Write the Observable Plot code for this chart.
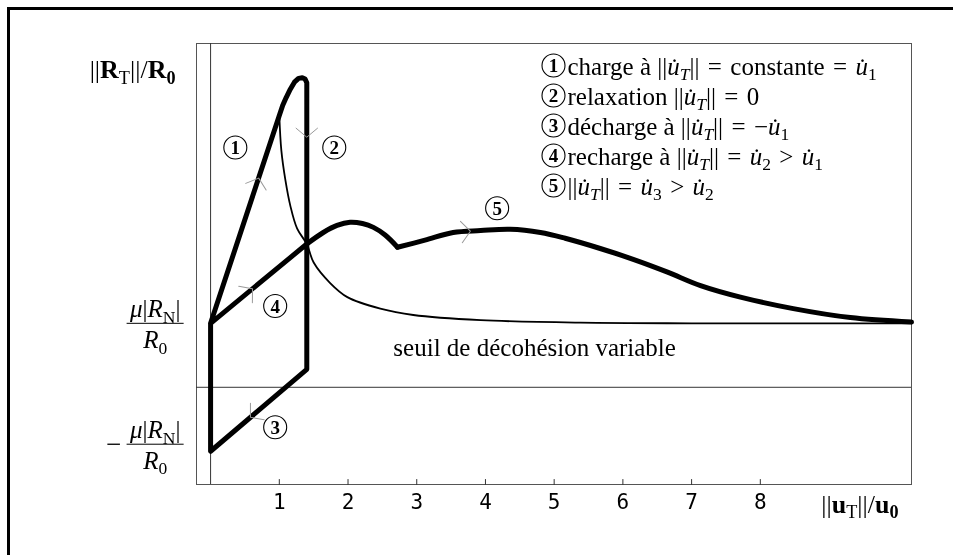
<!DOCTYPE html>
<html><head><meta charset="utf-8">
<script src="https://cdn.jsdelivr.net/npm/d3@7"></script>
<script src="https://cdn.jsdelivr.net/npm/@observablehq/plot@0.6"></script>
<style>
html,body{margin:0;background:#fff;overflow:hidden;}
#wrap{position:relative;width:953px;height:555px;overflow:hidden;}
#border{position:absolute;left:7px;top:7px;width:943px;height:545px;border-left:3px solid #000;border-top:3px solid #000;pointer-events:none;}
#wrap svg{position:absolute;left:0;top:0;will-change:transform;}
</style></head><body><div id="wrap"><div id="border"></div></div>
<script>
// ---- data ----
const xTicks = [1, 2, 3, 4, 5, 6, 7, 8];
// cycle 1-2-3 then 4 (charge, relaxation, décharge, recharge)
const loopX = [0, 1.0, 1.05, 1.10, 1.16, 1.22, 1.28, 1.335, 1.375, 1.40, 1.40, 1.40, 0, 0, 1.40];
const loopY = [1, 4.25, 4.41, 4.53, 4.66, 4.77, 4.83, 4.84, 4.82, 4.76, 4.68, 0.28, -1, 1, 2.24];
// segment 5, before and after the kink
const path5aX = [1.40, 1.64, 1.84, 2.03, 2.21, 2.37, 2.54, 2.72];
const path5aY = [2.24, 2.42, 2.53, 2.58, 2.56, 2.50, 2.38, 2.19];
const path5bX = [2.72, 3.12, 3.53, 3.93, 4.36, 4.80, 5.16, 5.67, 6.15, 6.65, 7.13, 7.71, 8.48, 9.31, 10.2];
const path5bY = [2.19, 2.30, 2.42, 2.45, 2.47, 2.42, 2.33, 2.17, 2.00, 1.80, 1.59, 1.41, 1.23, 1.09, 1.02];
// seuil de décohésion variable
const seuilX = [1.00, 1.03, 1.09, 1.16, 1.26, 1.40, 1.50, 1.74, 1.99, 2.47, 2.95, 3.93, 5.38, 7.0, 10.2];
const seuilY = [4.25, 3.70, 3.23, 2.84, 2.48, 2.24, 1.95, 1.63, 1.41, 1.23, 1.13, 1.05, 1.01, 1.0, 1.0];
// direction chevrons (position on path, heading in degrees)
const arrowX = [0.70, 1.40, 0.58, 0.61, 3.78];
const arrowY = [3.27, 3.91, -0.47, 1.54, 2.44];
const arrowAngle = [18, 180, 230, 50.5, 85];
// step labels
const stepNames = ["1", "2", "3", "4", "5"];
const stepX = [0.36, 1.80, 0.94, 0.94, 4.17];
const stepY = [3.75, 3.75, -0.625, 1.27, 2.80];
const E = "\u2004"; // math spacing
const legendText = [
  `charge à ||$u\u0307$_{$T$}||${E}=${E}constante${E}=${E}$u\u0307$_{1}`,
  `relaxation ||$u\u0307$_{$T$}||${E}=${E}0`,
  `décharge à ||$u\u0307$_{$T$}||${E}=${E}−$u\u0307$_{1}`,
  `recharge à ||$u\u0307$_{$T$}||${E}=${E}$u\u0307$_{2}${E}>${E}$u\u0307$_{1}`,
  `||$u\u0307$_{$T$}||${E}=${E}$u\u0307$_{3}${E}>${E}$u\u0307$_{2}`
];
const yLevels = [1, -0.89];
const seuilLabel = "seuil de décohésion variable";
const yTitle = "||*R*_{T}||/*R*_{*0*}";
const xTitle = "||*u*_{T}||/*u*_{*0*}";

// ---- build ----
const toPts = (xs, ys) => xs.map((x, i) => ({x, y: ys[i]}));
const loop = toPts(loopX, loopY);
const p5a = toPts(path5aX, path5aY);
const p5b = toPts(path5bX, path5bY);
const seuil = toPts(seuilX, seuilY);
const arrows = arrowX.map((x, i) => ({x, y: arrowY[i], a: arrowAngle[i]}));
const steps = stepNames.map((t, i) => ({t, x: stepX[i], y: stepY[i]}));

const chevron = {draw(ctx, l) {
  const a = 50 * Math.PI / 180;
  ctx.moveTo(-l * Math.sin(a), l * Math.cos(a));
  ctx.lineTo(0, 0);
  ctx.lineTo(l * Math.sin(a), l * Math.cos(a));
}};
const tickShape = {draw(ctx, l) { ctx.moveTo(0, 0); ctx.lineTo(0, -l); }};
const serif = "Liberation Serif";
const fsText = 25;
const txt = {fontSize: fsText, fontFamily: serif, letterSpacing: 0.2};
const ttl = {fontSize: 26, fontFamily: serif, letterSpacing: 1.5};

const legendMarks = [];
legendText.forEach((t, i) => {
  const dy = 22 + i * 30;
  legendMarks.push(Plot.dot([0], {frameAnchor: "top-left", dx: 357, dy, r: 11.5, stroke: "#000", strokeWidth: 1.1, fill: "none"}));
  legendMarks.push(Plot.text([stepNames[i]], {frameAnchor: "top-left", dx: 357, dy: dy + 0.5, textAnchor: "middle", lineAnchor: "middle", fontWeight: "bold", fontSize: 19, fontFamily: serif}));
  legendMarks.push(Plot.text([t], {frameAnchor: "top-left", dx: 371, dy: dy + 1, textAnchor: "start", lineAnchor: "middle", ...txt}));
});

const svg = Plot.plot({
  width: 953, height: 555,
  marginTop: 43, marginRight: 42, marginBottom: 71, marginLeft: 196,
  style: {fontFamily: serif, background: "transparent", overflow: "visible"},
  x: {domain: [-0.205, 10.2], axis: null},
  y: {domain: [-1.52, 5.375], axis: null},
  marks: [
    Plot.frame({stroke: "#555", strokeWidth: 1}),
    Plot.ruleX([0], {stroke: "#333", strokeWidth: 1}),
    Plot.ruleY([0], {stroke: "#333", strokeWidth: 1}),
    Plot.vector(xTicks, {x: d => d, frameAnchor: "bottom", length: 5, rotate: 0, anchor: "start", shape: tickShape, stroke: "#333", strokeWidth: 1}),
    Plot.axisX({ticks: xTicks, tickSize: 0, tickPadding: 10, fontSize: 21, fontFamily: "DejaVu Sans Mono", label: null, tickFormat: d => String(d)}),
    Plot.line(seuil, {x: "x", y: "y", curve: "catmull-rom", strokeWidth: 1.8, stroke: "#000"}),
    Plot.line(loop, {x: "x", y: "y", strokeWidth: 5, stroke: "#000", strokeLinejoin: "round", strokeLinecap: "round"}),
    Plot.line(p5a, {x: "x", y: "y", curve: "catmull-rom", strokeWidth: 5, stroke: "#000", strokeLinecap: "round"}),
    Plot.line(p5b, {x: "x", y: "y", curve: "catmull-rom", strokeWidth: 5, stroke: "#000", strokeLinecap: "round"}),
    Plot.vector(arrows, {x: "x", y: "y", rotate: "a", length: 14, anchor: "start", shape: chevron, stroke: "#999", strokeWidth: 1, fill: "none"}),
    Plot.dot(steps, {x: "x", y: "y", r: 11.5, stroke: "#000", strokeWidth: 1.1, fill: "none"}),
    Plot.text(steps, {x: "x", y: "y", text: "t", dy: 0.5, fontWeight: "bold", fontSize: 19, fontFamily: serif}),
    ...legendMarks,
    Plot.text([seuilLabel], {x: 2.66, y: 0.62, textAnchor: "start", ...txt}),
    // fraction labels
    Plot.text(yLevels, {x: -0.805, y: d => d, text: () => "$μ$|$R$_{N}|", lineAnchor: "bottom", dy: -6, ...txt}),
    Plot.text(yLevels, {x: -0.805, y: d => d, text: () => "$R$_{0}", lineAnchor: "top", dy: 7, ...txt}),
    Plot.ruleY(yLevels, {x1: -1.215, x2: -0.385, stroke: "#000", strokeWidth: 1}),
    Plot.text([yLevels[1]], {x: -1.41, y: d => d, text: () => "−", fontSize: 27, fontFamily: serif}),
    // axis titles
    Plot.text([yTitle], {frameAnchor: "top-left", dx: -21, dy: 26, textAnchor: "end", lineAnchor: "middle", ...ttl}),
    Plot.text([xTitle], {frameAnchor: "bottom-right", dx: -13, dy: 28, lineAnchor: "bottom", textAnchor: "end", ...ttl})
  ]
});
document.getElementById("wrap").appendChild(svg);

// rich text: $..$ italic, *..* bold, _{..} subscript
function richify(el) {
  const src = el.textContent;
  const fs = parseFloat(getComputedStyle(el).fontSize) || fsText;
  const segs = []; let cur = "", it = false, bd = false, sub = false;
  const flush = () => { if (cur) segs.push({t: cur, it, bd, sub}); cur = ""; };
  for (let i = 0; i < src.length; i++) {
    const c = src[i];
    if (c === "_" && src[i + 1] === "{") { flush(); sub = true; i++; continue; }
    if (c === "}" && sub) { flush(); sub = false; continue; }
    if (c === "$") { flush(); it = !it; continue; }
    if (c === "*") { flush(); bd = !bd; continue; }
    cur += c;
  }
  flush();
  while (el.firstChild) el.removeChild(el.firstChild);
  const shift = fs * 0.22;
  let shifted = false;
  for (const s of segs) {
    const ts = document.createElementNS("http://www.w3.org/2000/svg", "tspan");
    ts.textContent = s.t;
    ts.setAttribute("font-style", s.it ? "italic" : "normal");
    ts.setAttribute("font-weight", s.bd ? "bold" : "normal");
    if (s.sub) {
      ts.setAttribute("font-size", fs * 0.7);
      if (!shifted) { ts.setAttribute("dy", shift); shifted = true; }
    } else if (shifted) { ts.setAttribute("dy", -shift); shifted = false; }
    el.appendChild(ts);
  }
}
svg.querySelectorAll("text").forEach(el => {
  if (/[$*]|_\{/.test(el.textContent)) richify(el);
});
</script>
</body></html>
